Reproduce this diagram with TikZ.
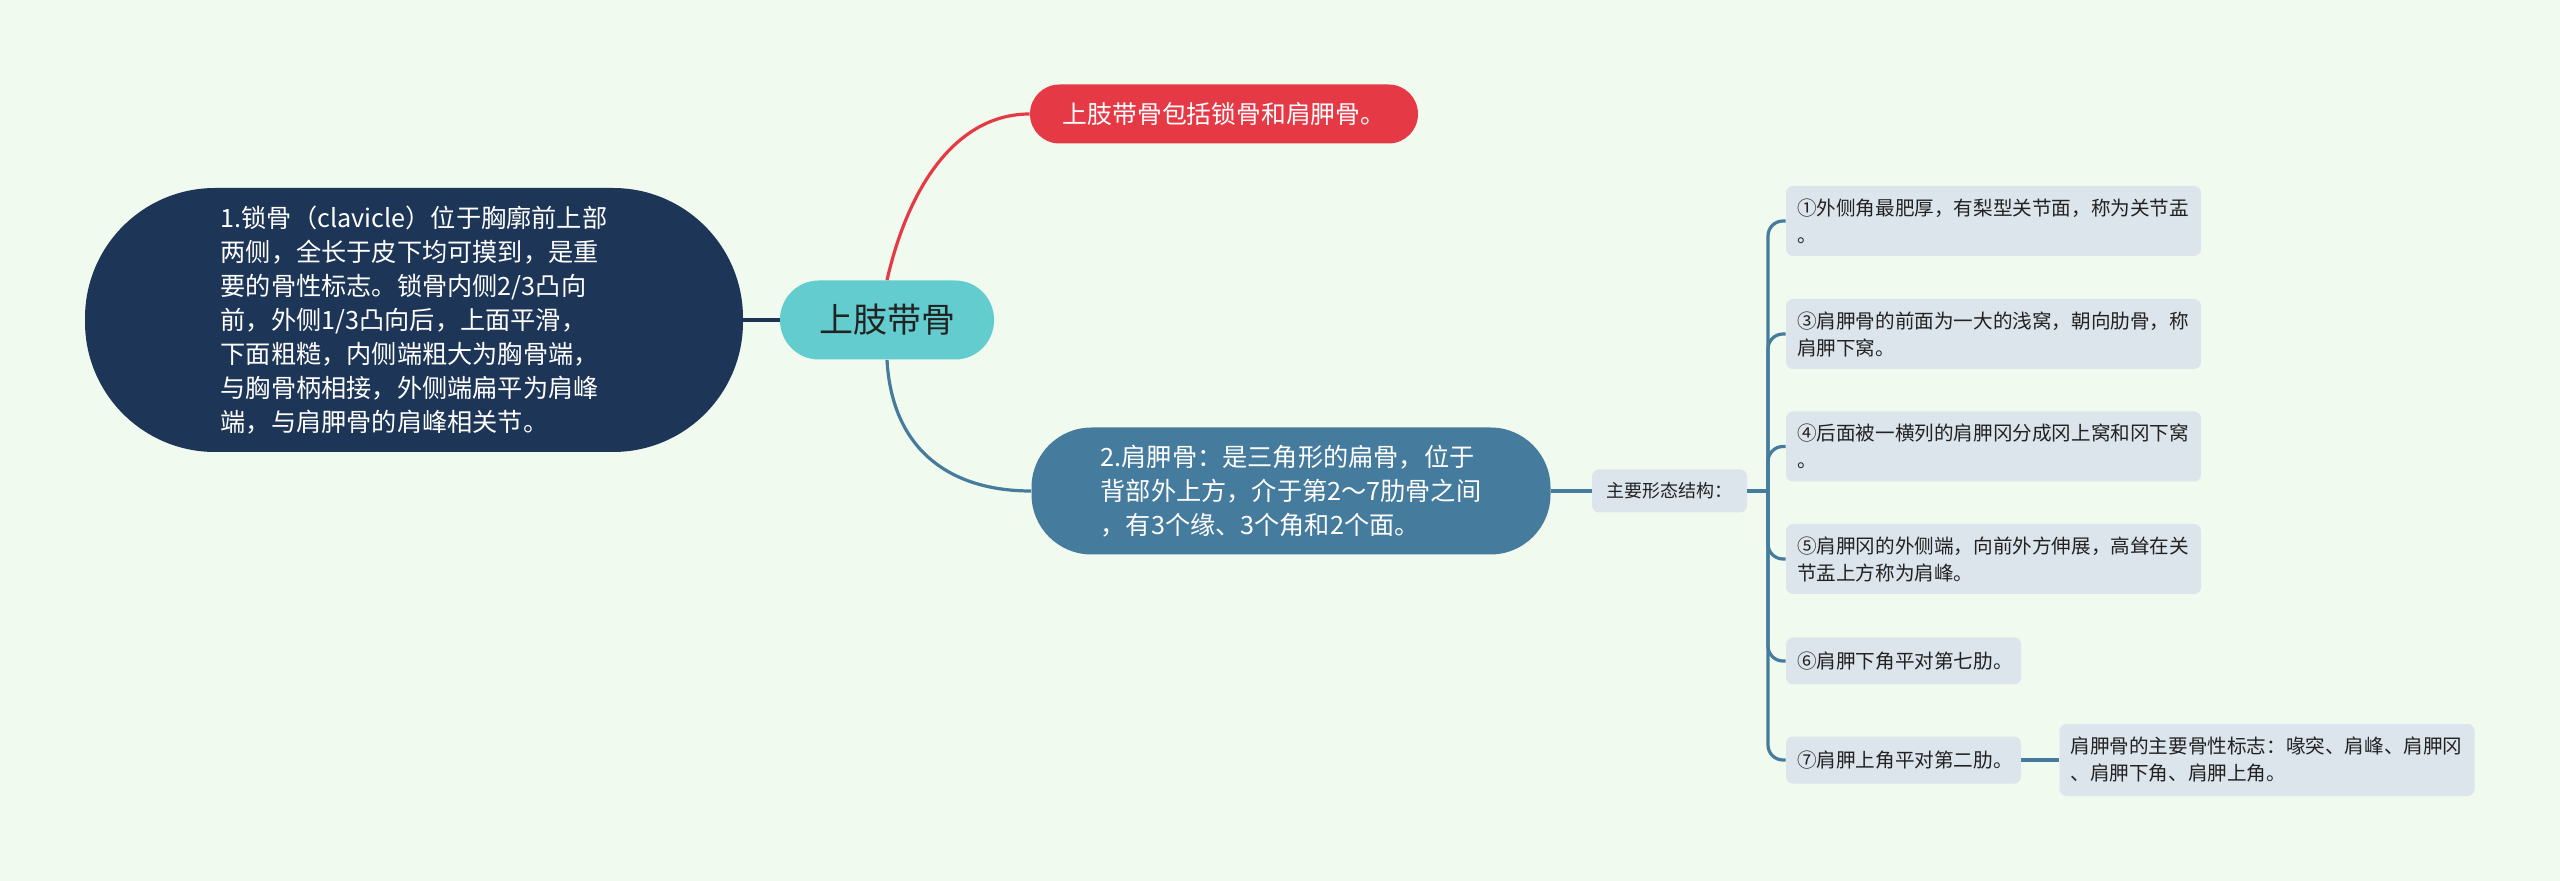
\documentclass[tikz,border=0pt]{standalone}
\usepackage{fontspec}
\setmainfont{Noto Sans CJK SC}
\definecolor{bgc}{HTML}{F1FAEE}
\definecolor{redc}{HTML}{E63946}
\definecolor{navyc}{HTML}{1D3557}
\definecolor{bluec}{HTML}{457B9D}
\definecolor{tealc}{HTML}{63CCCF}
\definecolor{boxc}{HTML}{DCE4EC}
\definecolor{darktext}{HTML}{222222}
\tikzset{
  conn/.style={line width=1.6pt},
  rootnode/.style={fill=tealc, minimum width=107pt, minimum height=39.5pt, rounded corners=19.5pt, inner sep=0pt, text=darktext, font=\fontsize{17pt}{20pt}\selectfont},
  rednode/.style={fill=redc, minimum width=194pt, minimum height=29.5pt, rounded corners=14.7pt, inner sep=0pt, text=white, font=\fontsize{12.4pt}{15pt}\selectfont},
  bignode/.style={inner sep=0pt, text=white, align=left, font=\fontsize{12.6pt}{17pt}\selectfont},
  smallbox/.style={fill=boxc, rounded corners=3.5pt, inner xsep=5.5pt, inner ysep=0pt, text=darktext, align=left, font=\fontsize{9.8pt}{13.5pt}\selectfont},
  widebox/.style={smallbox, text width=196.5pt, minimum height=35pt},
  shortbox/.style={smallbox, text width=106.5pt, minimum height=23.5pt},
}
\begin{document}
\begin{tikzpicture}[x=0.5pt,y=-0.5pt]
\fill[bgc] (0,0) rectangle (2560,881);
\useasboundingbox (0,0) rectangle (2560,881);

% main nodes
\node[rootnode] (root) at (887,320) {上肢带骨};
\node[rednode] (red) at (1224,114) {上肢带骨包括锁骨和肩胛骨。};
\node[bignode, fill=bluec, minimum width=259.5pt, minimum height=63.5pt, rounded corners=30pt] (blue) at (1291,491)
  {2.肩胛骨：是三角形的扁骨，位于\\背部外上方，介于第2～7肋骨之间\\，有3个缘、3个角和2个面。};
\node[bignode, fill=navyc, minimum width=329pt, minimum height=132pt, rounded corners=65pt] (left) at (414,320)
  {1.锁骨（clavicle）位于胸廓前上部\\两侧，全长于皮下均可摸到，是重\\要的骨性标志。锁骨内侧2/3凸向\\前，外侧1/3凸向后，上面平滑，\\下面粗糙，内侧端粗大为胸骨端，\\与胸骨柄相接，外侧端扁平为肩峰\\端，与肩胛骨的肩峰相关节。};

% second level
\node[smallbox, minimum width=77.5pt, minimum height=21.5pt, font=\fontsize{9pt}{11pt}\selectfont] (main) at (1669.5,491) {主要形态结构：};

\node[widebox] (b1) at (1993.5,221) {①外侧角最肥厚，有梨型关节面，称为关节盂\\。};
\node[widebox] (b3) at (1993.5,334) {③肩胛骨的前面为一大的浅窝，朝向肋骨，称\\肩胛下窝。};
\node[widebox] (b4) at (1993.5,446.5) {④后面被一横列的肩胛冈分成冈上窝和冈下窝\\。};
\node[widebox] (b5) at (1993.5,559) {⑤肩胛冈的外侧端，向前外方伸展，高耸在关\\节盂上方称为肩峰。};
\node[shortbox] (b6) at (1903.5,661) {⑥肩胛下角平对第七肋。};
\node[shortbox] (b7) at (1903.5,760) {⑦肩胛上角平对第二肋。};
\node[widebox, minimum height=36pt] (b8) at (2267,760) {肩胛骨的主要骨性标志：喙突、肩峰、肩胛冈\\、肩胛下角、肩胛上角。};

% connectors
\draw[conn, navyc] (left.east) -- (root.west);
\draw[conn, redc] (root.north) .. controls (910,180) and (960,114) .. (red.west);
\draw[conn, bluec] (root.south) .. controls (892,450) and (950,491) .. (blue.west);
\draw[conn, bluec] (blue.east) -- (main.west);
\coordinate (tr) at (1768,491);
\draw[conn, bluec] (main.east) -- (tr);
\foreach \b in {b1,b3,b4,b5,b6,b7}{
  \draw[conn, bluec, rounded corners=7.5pt] (tr) |- (\b.west);
}
\draw[conn, bluec] (b7.east) -- (b8.west);
\end{tikzpicture}
\end{document}
